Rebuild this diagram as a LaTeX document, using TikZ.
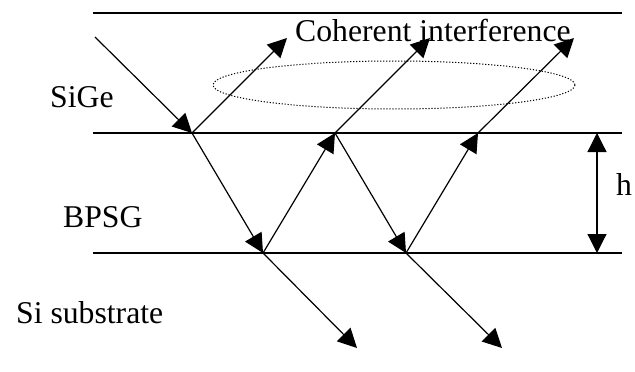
\documentclass[tikz,border=0pt]{standalone}
\usepackage{fontspec}
\setmainfont{Liberation Serif}
\usetikzlibrary{arrows.meta}
\tikzset{
  ray/.style={line width=1.2pt,-{Triangle[length=19pt,width=19pt]}},
  layer/.style={line width=1.2pt},
  lbl/.style={anchor=base west,inner sep=0pt,font=\fontsize{31.7}{38}\selectfont},
}
\begin{document}
\begin{tikzpicture}[x=1pt,y=-1pt]
\useasboundingbox (0,0) rectangle (635,372);
% layer boundaries
\coordinate (t1) at (93,13);  \coordinate (t2) at (622,13);
\coordinate (m1) at (93,133); \coordinate (m2) at (622,133);
\coordinate (b1) at (93,253); \coordinate (b2) at (622,253);
\draw[layer] (t1) -- (t2);
\draw[layer] (m1) -- (m2);
\draw[layer] (b1) -- (b2);
% ray points
\coordinate (s)  at (95,37);
\coordinate (p1) at (192,133);
\coordinate (q1) at (263,253);
\coordinate (p2) at (335,133);
\coordinate (q2) at (406,253);
\coordinate (p3) at (478,133);
\coordinate (u1) at (287,38);
\coordinate (u2) at (430,38);
\coordinate (u3) at (574,38);
\coordinate (d1) at (357,348);
\coordinate (d2) at (502,348);
\draw[ray] (s) -- (p1);
\draw[ray] (p1) -- (u1);
\draw[ray] (p1) -- (q1);
\draw[ray] (q1) -- (p2);
\draw[ray] (q1) -- (d1);
\draw[ray] (p2) -- (u2);
\draw[ray] (p2) -- (q2);
\draw[ray] (q2) -- (p3);
\draw[ray] (q2) -- (d2);
\draw[ray] (p3) -- (u3);
% thickness arrow
\coordinate (h1) at (597,133);
\coordinate (h2) at (597,253);
\draw[line width=1.2pt,{Triangle[length=19pt,width=19pt]}-{Triangle[length=19pt,width=19pt]}] (h1) -- (h2);
% dotted ellipse
\draw[line width=1pt,dash pattern=on 1.2pt off 1.8pt] (394,85) ellipse [x radius=181, y radius=24];
% labels
\node[lbl] (coh) at (295,41) {Coherent interference};
\node[lbl] (sige) at (50,107) {SiGe};
\node[lbl] (bpsg) at (63,227) {BPSG};
\node[lbl] (sub) at (16,323) {Si substrate};
\node[lbl] (h) at (616,195) {h};
\end{tikzpicture}
\end{document}
